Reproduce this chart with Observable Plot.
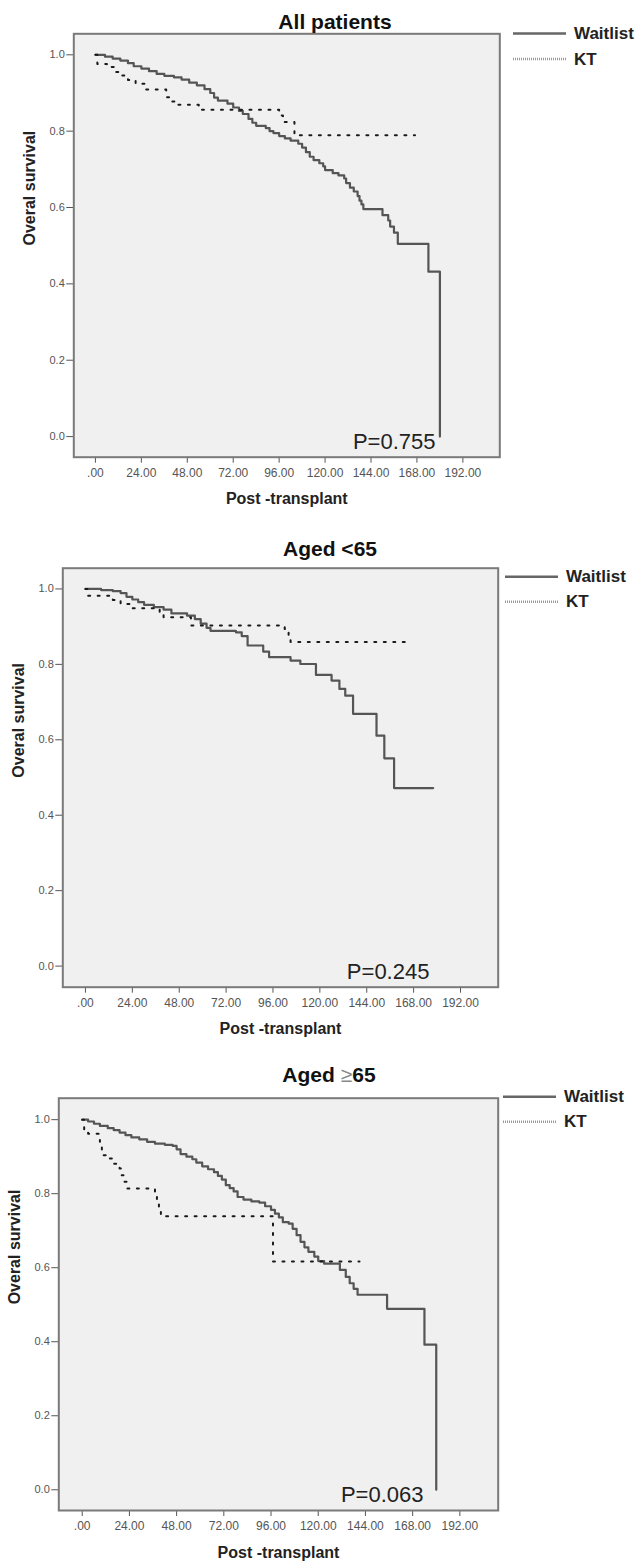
<!DOCTYPE html>
<html><head><meta charset="utf-8">
<script src="https://cdn.jsdelivr.net/npm/d3@7"></script>
<script src="https://cdn.jsdelivr.net/npm/@observablehq/plot@0.6"></script>
<style>
html,body{margin:0;padding:0;background:#fff;}
#page{position:relative;width:641px;height:1562px;overflow:hidden;font-family:"Liberation Sans",Arial,sans-serif;}
#page > svg{position:absolute;left:0;}
</style></head><body><div id="page"></div>
<script>
// ---- texts ----
const titles = ["All patients", "Aged <65", "Aged ≥65"];
const seriesNames = ["Waitlist", "KT"];
const pValues = ["P=0.755", "P=0.245", "P=0.063"];
const xTicks = [0, 24, 48, 72, 96, 120, 144, 168, 192];
const xTickLabels = [".00", "24.00", "48.00", "72.00", "96.00", "120.00", "144.00", "168.00", "192.00"];
const yTicks = [0, 0.2, 0.4, 0.6, 0.8, 1.0];
const yTickLabels = ["0.0", "0.2", "0.4", "0.6", "0.8", "1.0"];
const xLabel = "Post -transplant";
const yLabel = "Overal survival";

// ---- All patients ----
const allWaitTime = [0,5,9,13,17,20,24,28,32,36,41,45,49,53,57,60,62,64,69,72,75,77,80,82,84,89,91,93,96,99,102,106,108,110,112,114,117,119,120,124,127,130,131,133,135,137,138,139,140,150,153,154,156,158,174,180];
const allWaitSurv = [1.0,0.995,0.99,0.985,0.978,0.97,0.964,0.957,0.95,0.945,0.941,0.935,0.927,0.92,0.91,0.9,0.888,0.88,0.872,0.862,0.853,0.845,0.832,0.822,0.814,0.808,0.8,0.795,0.787,0.781,0.775,0.767,0.757,0.745,0.733,0.724,0.716,0.708,0.698,0.69,0.684,0.676,0.664,0.652,0.642,0.63,0.618,0.608,0.596,0.58,0.566,0.55,0.534,0.505,0.432,0.0];
const allKtTime = [0,1,6,10,14,17,21,26,37,40,42,54,96,98,104,167];
const allKtSurv = [1.0,0.976,0.968,0.955,0.946,0.934,0.924,0.909,0.889,0.878,0.869,0.856,0.841,0.824,0.789,0.789];

// ---- Aged <65 ----
const youngWaitTime = [0,8,14,18,21,24,27,30,35,40,44,52,56,59,62,64,77,80,83,91,94,105,110,118,126,130,133,137,149,153,158,178];
const youngWaitSurv = [1.0,0.997,0.994,0.989,0.979,0.972,0.965,0.958,0.952,0.945,0.935,0.929,0.92,0.908,0.897,0.889,0.885,0.875,0.85,0.834,0.819,0.81,0.801,0.772,0.757,0.735,0.717,0.669,0.611,0.551,0.472,0.472];
const youngKtTime = [0,1,14,18,24,38,40,54,102,104,105,166];
const youngKtSurv = [1.0,0.982,0.971,0.96,0.949,0.937,0.925,0.903,0.894,0.872,0.859,0.859];

// ---- Aged >=65 ----
const oldWaitTime = [0,3,6,9,13,16,19,22,25,29,33,37,42,46,48,50,53,56,58,61,64,67,69,71,73,75,77,79,82,86,90,93,96,98,100,102,105,107,109,111,113,115,118,120,123,131,134,136,138,140,155,174,180];
const oldWaitSurv = [1.0,0.995,0.989,0.983,0.977,0.972,0.965,0.958,0.952,0.947,0.94,0.935,0.932,0.929,0.92,0.907,0.9,0.893,0.884,0.874,0.866,0.858,0.848,0.838,0.823,0.815,0.806,0.791,0.784,0.779,0.776,0.766,0.756,0.746,0.736,0.723,0.719,0.705,0.688,0.67,0.655,0.643,0.63,0.618,0.611,0.594,0.575,0.558,0.543,0.527,0.489,0.392,0.0];
const oldKtTime = [0,1,3,9,10,13,16,19,20,21,23,37,38,39,40,97,141];
const oldKtSurv = [1.0,0.971,0.962,0.94,0.904,0.895,0.881,0.868,0.85,0.832,0.814,0.805,0.779,0.759,0.739,0.617,0.617];

const series = [
  [allWaitTime, allWaitSurv, allKtTime, allKtSurv],
  [youngWaitTime, youngWaitSurv, youngKtTime, youngKtSurv],
  [oldWaitTime, oldWaitSurv, oldKtTime, oldKtSurv]
];

// ---- layout (pixels) ----
const layout = [
  {top: 0,    height: 520, mt: 33.3, mb: 63.3, ml: 73.3, mr: 141.7, xd: [-11.3, 211.3], yd: [-0.054, 1.055], pX: 177.7, titleX: 335, titleY: 28.5, legX: 513, legY: [33.5, 59]},
  {top: 520,  height: 520, mt: 47.7, mb: 53.3, ml: 62.3, mr: 143.3, xd: [-11.6, 211.3], yd: [-0.056, 1.055], pX: 176.1, titleX: 330, titleY: 556, legX: 505, legY: [576.7, 601.7]},
  {top: 1040, height: 522, mt: 57.7, mb: 52,   ml: 58.3, mr: 143.3, xd: [-11.9, 211.5], yd: [-0.056, 1.058], pX: 173.5, titleX: 329, titleY: 1082, legX: 503, legY: [1096.7, 1121.7]}
];

const page = document.getElementById("page");
const font = "Liberation Sans, Arial, sans-serif";
const toRows = (t, s) => t.map((d, i) => ({t: d, s: s[i]}));

layout.forEach((L, k) => {
  const [wt, ws, kt, ks] = series[k];
  const wait = toRows(wt, ws);
  const ktRows = toRows(kt, ks);
  const chart = Plot.plot({
    width: 641, height: L.height,
    marginTop: L.mt, marginBottom: L.mb, marginLeft: L.ml, marginRight: L.mr,
    style: {background: "transparent", fontFamily: font, overflow: "visible"},
    x: {domain: L.xd},
    y: {domain: L.yd},
    marks: [
      Plot.frame({fill: "#f0f0f0"}),
      Plot.axisX({ticks: xTicks, tickFormat: d => xTickLabels[xTicks.indexOf(d)], tickSize: 6, tickPadding: 5, fontSize: 12, color: "#555", label: null}),
      Plot.axisY({ticks: yTicks, tickFormat: d => yTickLabels[yTicks.findIndex(v => Math.abs(v - d) < 1e-9)], tickSize: 7, tickPadding: 2, fontSize: 11, color: "#555", label: null}),
      Plot.line(wait, {x: "t", y: "s", curve: "step-after", stroke: "#555", strokeWidth: 2.2}),
      Plot.line(ktRows, {x: "t", y: "s", curve: "step-after", stroke: "#1a1a1a", strokeWidth: 2, strokeDasharray: "2,7.5"}),
      Plot.frame({stroke: "#7a7a7a", strokeWidth: 2}),
      Plot.text([pValues[k]], {x: () => L.pX, text: d => d, frameAnchor: "bottom", dy: -8.5, textAnchor: "end", lineAnchor: "bottom", fontSize: 22, fill: "#222"}),
      Plot.text([xLabel], {text: d => d, frameAnchor: "bottom", dy: 47, lineAnchor: "bottom", fontWeight: "bold", fontSize: 16, fill: "#222"}),
      Plot.text([yLabel], {text: d => d, frameAnchor: "left", dx: -43.5, rotate: -90, fontWeight: "bold", fontSize: 16, fill: "#222"})
    ]
  });
  chart.style.top = L.top + "px";
  page.appendChild(chart);
});

// ---- titles and legends overlay ----
const overlay = d3.create("svg").attr("width", 641).attr("height", 1562)
  .style("position", "absolute").style("top", "0px").style("left", "0px")
  .attr("font-family", font);
layout.forEach((L, k) => {
  const t = overlay.append("text").attr("x", L.titleX).attr("y", L.titleY)
    .attr("text-anchor", "middle").attr("font-size", 21).attr("font-weight", "bold").attr("fill", "#111");
  for (const ch of titles[k]) {
    const span = t.append("tspan").text(ch);
    if (ch === "≥") span.attr("font-weight", "normal").attr("fill", "#888");
  }
  seriesNames.forEach((name, j) => {
    const y = L.legY[j];
    overlay.append("line").attr("x1", L.legX).attr("x2", L.legX + 53).attr("y1", y).attr("y2", y)
      .attr("stroke", j === 0 ? "#666" : "#999").attr("stroke-width", 2.5)
      .attr("stroke-dasharray", j === 0 ? null : "1,1");
    overlay.append("text").attr("x", L.legX + 61).attr("y", y + 5.5)
      .attr("font-size", 17).attr("font-weight", "bold").attr("fill", "#222").text(name);
  });
});
page.appendChild(overlay.node());
</script>
</body></html>
